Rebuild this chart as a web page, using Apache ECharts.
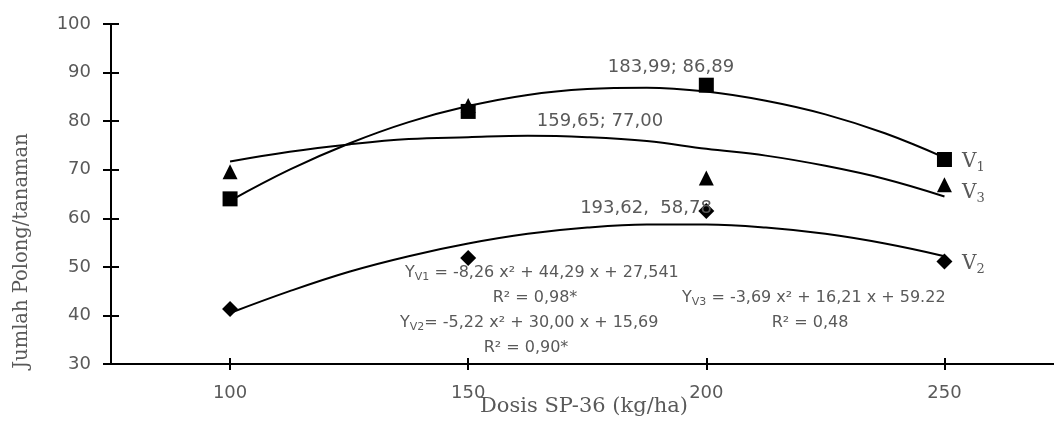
<!DOCTYPE html>
<html>
<head>
<meta charset="utf-8">
<script src="https://cdn.jsdelivr.net/npm/echarts@6/dist/echarts.min.js"></script>
<style>
html,body{margin:0;padding:0;background:#fff;}
#chart{width:1054px;height:424px;}
</style>
</head>
<body>
<div id="chart"></div>
<script>
// ---- data ----
const doses = [100, 150, 200, 250];
const v1Obs = [64.0, 82.0, 87.4, 72.1];
const v2Obs = [41.3, 51.8, 61.5, 51.1];
const v3Obs = [69.6, 83.2, 68.3, 66.9];
// trend curves
const trendX = [100, 112.5, 125, 137.5, 150, 162.5, 175, 187.5, 200, 212.5, 225, 237.5, 250];
const v1Trend = [63.6, 70.0, 75.4, 79.8, 83.1, 85.4, 86.6, 86.9, 86.1, 84.2, 81.4, 77.5, 72.5];
const v2Trend = [40.5, 45.0, 49.0, 52.2, 54.8, 56.8, 58.1, 58.7, 58.7, 58.1, 56.8, 54.8, 52.2];
const v3Trend = [71.7, 73.7, 75.2, 76.3, 76.7, 77.0, 76.7, 75.9, 74.3, 72.9, 70.8, 68.1, 64.5];
const xTicks = [100, 150, 200, 250];

const GRAY = '#595959';
const SANS = 'DejaVu Sans';
const SERIF = 'DejaVu Serif';

function pairs(xs, ys) { return xs.map((x, i) => [x, ys[i]]); }

const chart = echarts.init(document.getElementById('chart'));

const sub = (size, pad) => ({ fontSize: size, fontFamily: SANS, color: GRAY, padding: [pad, 0, 0, 0] });
const norm = { fontSize: 16, fontFamily: SANS, color: GRAY };
const richEq = { n: norm, s: sub(11, 9) };
const richLeg = {
  n: { fontSize: 20, fontFamily: SERIF, color: GRAY },
  s: { fontSize: 13, fontFamily: SERIF, color: GRAY, padding: [12, 0, 0, 0] }
};

function txt(text, x, y, align, rich, font, rot) {
  return {
    type: 'text', x: x, y: y, z: 100, rotation: rot || 0,
    style: Object.assign({
      text: text, align: align || 'center', verticalAlign: 'middle',
      fill: GRAY, fontFamily: SANS, fontSize: 16
    }, rich ? { rich: rich } : {}, font || {})
  };
}

const tickStyle = { color: '#000', width: 2 };
const gridBox = { left: 111, right: 0, top: 24, bottom: 60, containLabel: false, outerBoundsMode: 'none' };

const option = {
  animation: false,
  backgroundColor: '#fff',
  grid: [Object.assign({}, gridBox), Object.assign({}, gridBox)],
  xAxis: [{
    type: 'value', min: 75, max: 273, gridIndex: 0,
    axisLine: { show: true, onZero: false, lineStyle: { color: '#000', width: 2 } },
    splitLine: { show: false },
    axisTick: { show: true, length: 6, customValues: xTicks, lineStyle: tickStyle },
    axisLabel: { customValues: xTicks, color: GRAY, fontFamily: SANS, fontSize: 18, margin: 20 }
  }, {
    type: 'value', min: 75, max: 273, gridIndex: 1,
    axisLine: { show: false, onZero: false }, splitLine: { show: false },
    axisTick: { show: true, inside: true, length: 6, customValues: xTicks, lineStyle: tickStyle },
    axisLabel: { show: false, customValues: xTicks }
  }],
  yAxis: [{
    type: 'value', min: 30, max: 100, interval: 10, gridIndex: 0,
    axisLine: { show: true, onZero: false, lineStyle: { color: '#000', width: 2 } },
    splitLine: { show: false },
    axisTick: { show: true, length: 8, lineStyle: tickStyle },
    axisLabel: { color: GRAY, fontFamily: SANS, fontSize: 18, margin: 20 }
  }, {
    type: 'value', min: 30, max: 100, interval: 10, gridIndex: 1,
    axisLine: { show: false, onZero: false }, splitLine: { show: false },
    axisTick: { show: true, inside: true, length: 8, lineStyle: tickStyle },
    axisLabel: { show: false }
  }],
  series: [
    { type: 'line', data: pairs(trendX, v1Trend), smooth: 0.4, showSymbol: false, lineStyle: { color: '#000', width: 2 }, z: 2 },
    { type: 'line', data: pairs(trendX, v2Trend), smooth: 0.4, showSymbol: false, lineStyle: { color: '#000', width: 2 }, z: 2 },
    { type: 'line', data: pairs(trendX, v3Trend), smooth: 0.4, showSymbol: false, lineStyle: { color: '#000', width: 2 }, z: 2 },
    { type: 'scatter', data: pairs(doses, v3Obs), symbol: 'triangle', symbolSize: 15, itemStyle: { color: '#000', opacity: 1 }, z: 3 },
    { type: 'scatter', data: pairs(doses, v1Obs), symbol: 'rect', symbolSize: 15, itemStyle: { color: '#000', opacity: 1 }, z: 4 },
    { type: 'scatter', data: pairs(doses, v2Obs), symbol: 'diamond', symbolSize: 16, itemStyle: { color: '#000', opacity: 1 }, z: 4 }
  ],
  graphic: [
    txt('Jumlah Polong/tanaman', 22, 251, 'center', null, { fontFamily: SERIF, fontSize: 19.5 }, Math.PI / 2),
    txt('Dosis SP-36 (kg/ha)', 584, 407, 'center', null, { fontFamily: SERIF, fontSize: 21 }),
    txt('183,99; 86,89', 671, 67, 'center', null, { fontSize: 18 }),
    txt('159,65; 77,00', 600, 121, 'center', null, { fontSize: 18 }),
    txt('193,62,  58,78', 646, 208, 'center', null, { fontSize: 18 }),
    txt('{n|Y}{s|V1}{n| = -8,26 x² + 44,29 x + 27,541}', 405, 273, 'left', richEq),
    txt('{n|R² = 0,98*}', 535, 298, 'center', richEq),
    txt('{n|Y}{s|V2}{n|= -5,22 x² + 30,00 x + 15,69}', 400, 323, 'left', richEq),
    txt('{n|R² = 0,90*}', 526, 348, 'center', richEq),
    txt('{n|Y}{s|V3}{n| = -3,69 x² + 16,21 x + 59.22}', 682, 298, 'left', richEq),
    txt('{n|R² = 0,48}', 810, 323, 'center', richEq),
    txt('{n|V}{s|1}', 962, 162, 'left', richLeg),
    txt('{n|V}{s|3}', 962, 193, 'left', richLeg),
    txt('{n|V}{s|2}', 962, 264, 'left', richLeg)
  ]
};
chart.setOption(option);
</script>
</body>
</html>
